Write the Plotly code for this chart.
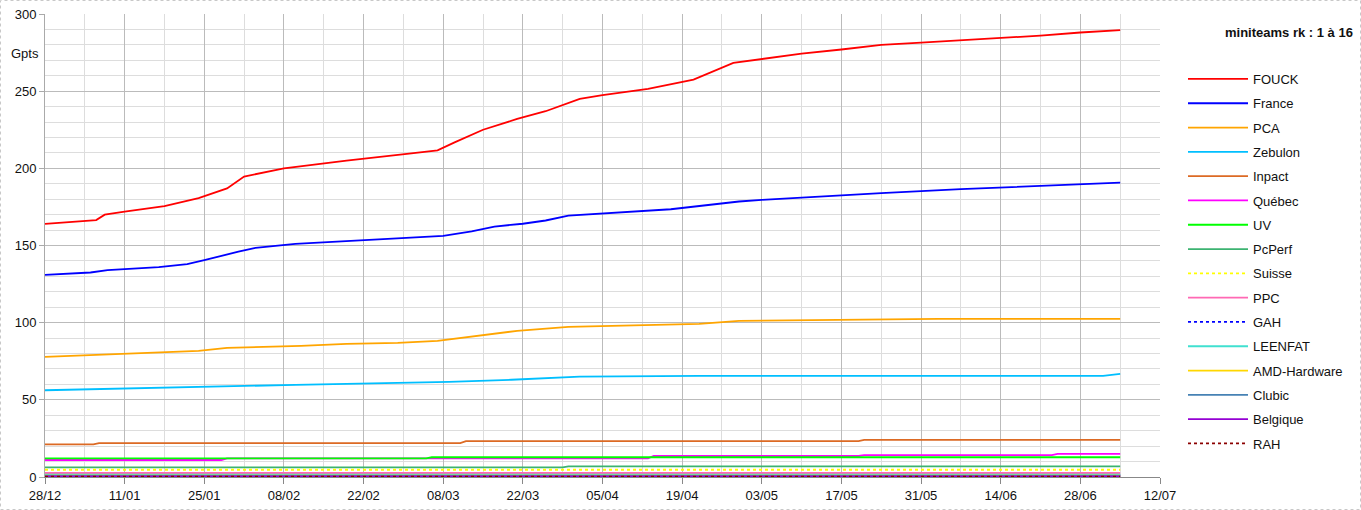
import pandas as pd
import plotly.graph_objects as go

START_DATE = "2004-12-28"
END_DATE = "2005-07-12"

# ---- data: day offsets from START_DATE and values (Gpts) ----
fouck_days = [0, 9, 10.5, 14, 21, 27, 32, 35, 42, 53, 64, 69, 72, 77, 83, 88, 94, 98, 106, 114, 121, 126, 133, 140, 147, 154, 161, 168, 175, 182, 189]
fouck_vals = [164, 166.5, 170, 172, 175.5, 180.7, 187, 194.7, 200, 205, 209.5, 211.6, 216.8, 225, 232, 237, 245, 247.5, 251.5, 257.5, 268.3, 271, 274.3, 277, 280, 281.5, 283, 284.5, 286, 288, 289.5]

france_days = [0, 8, 11, 20, 25, 28, 34, 37, 44, 53, 62, 70, 75, 79, 84, 88, 92, 98, 110, 122, 126, 140, 147, 161, 175, 189]
france_vals = [131, 132.5, 134, 136, 138, 140.5, 146, 148.5, 151, 153, 154.8, 156.3, 159.1, 162.3, 164.1, 166.2, 169.3, 170.6, 173.5, 178.5, 179.6, 182.5, 184, 186.5, 188.7, 190.7]

pca_days = [0, 9, 15, 21, 27, 32, 45, 53, 62, 69, 76, 83, 92, 98, 108, 115, 122, 136, 157, 189]
pca_vals = [77.8, 79.1, 79.8, 80.4, 81.7, 83.7, 85, 86.3, 86.9, 88.2, 91.4, 94.7, 97.3, 97.9, 98.6, 99.2, 101.2, 101.8, 102.5, 102.5]

zebulon_days = [0, 9, 17, 28, 36, 44, 62, 71, 82, 90, 94, 115, 186, 189]
zebulon_vals = [56.2, 57, 57.7, 58.4, 59, 59.7, 61, 61.6, 63, 64.2, 65, 65.5, 65.5, 66.8]

inpact_days = [0, 8.5, 9.5, 73, 74, 143, 144, 189]
inpact_vals = [21.2, 21.2, 22, 22, 23.3, 23.3, 24, 24]

quebec_days = [0, 31, 32, 106, 107, 143, 144, 177, 178, 189]
quebec_vals = [11, 11, 12.1, 12.1, 13.6, 13.6, 14.2, 14.2, 15, 15]

uv_days = [0, 67, 68, 189]
uv_vals = [12.1, 12.1, 12.8, 12.8]

pcperf_days = [0, 91, 92, 189]
pcperf_vals = [6.3, 6.3, 6.9, 6.9]

suisse_days = [0, 189]
suisse_vals = [4.7, 4.7]

ppc_days = [0, 189]
ppc_vals = [2.6, 2.6]

gah_days = [0, 189]
gah_vals = [1.2, 1.2]

leenfat_days = [0, 189]
leenfat_vals = [1.6, 1.6]

amd_days = [0, 189]
amd_vals = [0.9, 0.9]

clubic_days = [0, 189]
clubic_vals = [0.6, 0.6]

belgique_days = [0, 189]
belgique_vals = [0.35, 0.35]

rah_days = [0, 189]
rah_vals = [0.3, 0.3]

series = [
    ("FOUCK", fouck_days, fouck_vals, "#FF0000", "solid"),
    ("France", france_days, france_vals, "#0000FF", "solid"),
    ("PCA", pca_days, pca_vals, "#FFA500", "solid"),
    ("Zebulon", zebulon_days, zebulon_vals, "#00BFFF", "solid"),
    ("Inpact", inpact_days, inpact_vals, "#DC6A24", "solid"),
    ("Québec", quebec_days, quebec_vals, "#FF00FF", "solid"),
    ("UV", uv_days, uv_vals, "#00FF00", "solid"),
    ("PcPerf", pcperf_days, pcperf_vals, "#3CB371", "solid"),
    ("Suisse", suisse_days, suisse_vals, "#FFFF00", "dot"),
    ("PPC", ppc_days, ppc_vals, "#FF69B4", "solid"),
    ("GAH", gah_days, gah_vals, "#0000FF", "dot"),
    ("LEENFAT", leenfat_days, leenfat_vals, "#40E0D0", "solid"),
    ("AMD-Hardware", amd_days, amd_vals, "#FFD700", "solid"),
    ("Clubic", clubic_days, clubic_vals, "#4682B4", "solid"),
    ("Belgique", belgique_days, belgique_vals, "#9400D3", "solid"),
    ("RAH", rah_days, rah_vals, "#8B0000", "dot"),
]

start = pd.Timestamp(START_DATE)
fig = go.Figure()
for i, (name, days, vals, color, dash) in enumerate(series):
    x = [start + pd.to_timedelta(d, unit="D") for d in days]
    fig.add_trace(go.Scatter(
        x=x, y=vals, mode="lines", name=name,
        legendgroup=f"g{i}",
        line=dict(color=color, width=1.8, dash=dash),
    ))

FONT = "Liberation Sans, Arial, sans-serif"
L, R, T, B = 45, 201, 14, 33
W, H = 1361, 510
PW, PH = W - L - R, H - T - B

def px(xp):
    return (xp - L) / PW

def py(yp):
    return (H - B - yp) / PH

DAY_MS = 86400000
fig.update_layout(
    width=W, height=H,
    margin=dict(l=L, r=R, t=T, b=B, pad=0, autoexpand=False),
    paper_bgcolor="white", plot_bgcolor="white",
    font=dict(family=FONT, size=13, color="#111111"),
    showlegend=True,
    legend=dict(
        x=px(1183), y=py(64), xanchor="left", yanchor="top",
        bgcolor="rgba(0,0,0,0)",
        font=dict(family=FONT, size=13, color="#111111"),
        tracegroupgap=4.4, itemwidth=60,
    ),
    xaxis=dict(
        type="date",
        range=[START_DATE, END_DATE],
        tick0=START_DATE, dtick=14 * DAY_MS,
        tickformat="%d/%m",
        showgrid=True, gridcolor="#BBBBBB", gridwidth=1,
        minor=dict(dtick=7 * DAY_MS, tick0=START_DATE, showgrid=True, gridcolor="#DDDDDD", gridwidth=1),
        showline=True, linecolor="#888888", linewidth=1,
        ticks="outside", ticklen=6, tickcolor="#888888",
        zeroline=False,
        tickfont=dict(family=FONT, size=13, color="#111111"),
    ),
    yaxis=dict(
        range=[0, 300], dtick=50,
        showgrid=True, gridcolor="#BBBBBB", gridwidth=1,
        minor=dict(dtick=10, showgrid=True, gridcolor="#DDDDDD", gridwidth=1),
        showline=True, linecolor="#AAAAAA", linewidth=1,
        ticks="outside", ticklen=5, tickcolor="#AAAAAA",
        zeroline=False,
        tickfont=dict(family=FONT, size=13, color="#111111"),
    ),
    annotations=[
        dict(text="Gpts", xref="paper", yref="paper", x=px(25), y=py(53),
             xanchor="center", yanchor="middle", showarrow=False,
             font=dict(family=FONT, size=13, color="#111111")),
        dict(text="<b>miniteams rk : 1 à 16</b>", xref="paper", yref="paper",
             x=px(1355), y=py(32), xanchor="right", yanchor="middle", showarrow=False,
             font=dict(family=FONT, size=13, color="#111111")),
    ],
    shapes=[
        dict(type="rect", xref="paper", yref="paper",
             x0=px(0.5), x1=px(1360.5), y0=py(509.5), y1=py(0.5),
             line=dict(color="#C8C8C8", width=1, dash="dot"), layer="below"),
    ],
)

fig.write_html("out.html")
